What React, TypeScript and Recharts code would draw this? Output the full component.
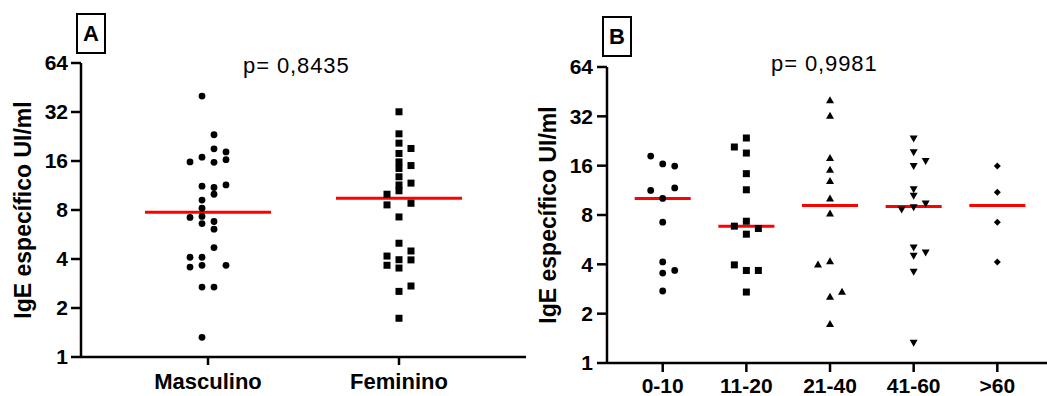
import React from 'react';
import { ScatterChart, Scatter, XAxis, YAxis, ReferenceLine } from 'recharts';

// IgE values, with the lane each dot sits in
const sexGroups = ['Masculino', 'Feminino'];
const masculinoIgE = [40.1, 23.2, 19.0, 18.2, 16.9, 15.8, 15.7, 16.3, 11.2, 11.0, 11.4, 10.0, 9.2, 8.2, 7.2, 7.3, 6.6, 6.8, 6.1, 4.7, 4.1, 4.1, 3.57, 3.66, 3.66, 2.69, 2.69, 1.32];
const masculinoLane = [-0.5, 0.5, 0.5, 1.5, -0.5, -1.5, 0.5, 1.5, -0.5, 0.5, 1.5, 0.5, -0.5, -0.5, -1.5, -0.5, -0.5, 0.5, 0.5, 0.5, -1.5, -0.5, -1.5, -0.5, 1.5, -0.5, 0.5, -0.5];
const femininoIgE = [32.1, 23.5, 20.6, 19.1, 17.8, 15.8, 14.4, 15.0, 12.8, 11.4, 11.7, 10.5, 10.0, 8.6, 8.8, 7.25, 5.0, 4.48, 4.17, 3.96, 3.95, 3.66, 3.52, 2.73, 2.53, 1.73];
const femininoLane = [0, 0, 0, 1, 0, 0, 0, 1, 0, 0, 1, 0, -1, -1, 1, 0, 0, 1, -1, 0, 1, -1, 0, 1, 0, 0];
const sexMedians = [7.74, 9.44];

const ageGroups = ['0-10', '11-20', '21-40', '41-60', '>60'];
const age0to10 = [18.3, 16.4, 15.9, 11.3, 11.7, 10.1, 7.23, 4.14, 3.54, 3.67, 2.75];
const age0to10Lane = [-1, 0, 1, -1, 1, 0, 0, 0, 0, 1, 0];
const age11to20 = [23.6, 20.8, 19.1, 14.3, 11.4, 7.33, 6.84, 6.62, 6.11, 3.97, 3.67, 3.67, 2.71];
const age11to20Lane = [0, -1, 0, 0, 0, 0, -1, 1, 0, -1, 0, 1, 0];
const age21to40 = [40.1, 32.3, 17.8, 15.1, 12.9, 10.1, 8.17, 3.99, 4.18, 2.72, 2.54, 1.73];
const age21to40Lane = [0, 0, 0, 0, 0, 0, 0, -1, 0, 1, 0, 0];
const age41to60 = [23.4, 19.3, 17.1, 15.9, 11.5, 10.5, 9.4, 8.64, 8.93, 5.07, 4.73, 4.51, 3.6, 1.33];
const age41to60Lane = [0, 0, 1, 0, 0, 0, 1, -1, 0, 0, 1, 0, 0, 0];
const ageOver60 = [15.9, 11.0, 7.23, 4.14];
const ageOver60Lane = [0, 0, 0, 0];
const ageMedians = [10.1, 6.84, 9.14, 9.01, 9.14];

const yTicks = [1, 2, 4, 8, 16, 32, 64];

const build = (group: number, values: number[], lanes: number[], laneW: number) =>
  values.map((v, i) => ({ x: group + lanes[i] * laneW, y: v }));

const Dot = (p: any) => <circle cx={p.cx} cy={p.cy} r={3.4} fill="#000" />;
const Sq = (p: any) => <rect x={p.cx - 3.5} y={p.cy - 3.5} width={7} height={7} fill="#000" />;
const TriUp = (p: any) => <path d={`M${p.cx},${p.cy - 4} L${p.cx + 4},${p.cy + 3} L${p.cx - 4},${p.cy + 3} Z`} fill="#000" />;
const TriDown = (p: any) => <path d={`M${p.cx - 4},${p.cy - 3} L${p.cx + 4},${p.cy - 3} L${p.cx},${p.cy + 4} Z`} fill="#000" />;
const Diam = (p: any) => <path d={`M${p.cx},${p.cy - 3.5} L${p.cx + 3.5},${p.cy} L${p.cx},${p.cy + 3.5} L${p.cx - 3.5},${p.cy} Z`} fill="#000" />;

const font = '"Liberation Sans", Arial, sans-serif';
const axisStroke = { stroke: '#000', strokeWidth: 2.5 };

const yTitle = (offset: number) => ({
  value: 'IgE específico UI/ml', angle: -90, position: 'insideLeft' as const, offset,
  style: { textAnchor: 'middle', fontSize: 23, fontWeight: 700, fill: '#000', fontFamily: font },
});

const PanelTag = ({ left, top, text }: { left: number; top: number; text: string }) => (
  <div style={{
    position: 'absolute', left, top, width: 26, height: 37, border: '2px solid #000',
    fontFamily: font, fontWeight: 700, fontSize: 22, lineHeight: '37px', textAlign: 'center',
  }}>{text}</div>
);

const PValue = ({ left, top, text }: { left: number; top: number; text: string }) => (
  <div style={{ position: 'absolute', left, top, fontFamily: font, fontSize: 22, letterSpacing: 0.9, lineHeight: '22px' }}>{text}</div>
);

export default function App() {
  const laneA = 0.0628;
  const laneB = 0.1435;
  const masc = build(0, masculinoIgE, masculinoLane, laneA);
  const fem = build(1, femininoIgE, femininoLane, laneA);
  const ageSets = [
    { data: build(0, age0to10, age0to10Lane, laneB), shape: Dot },
    { data: build(1, age11to20, age11to20Lane, laneB), shape: Sq },
    { data: build(2, age21to40, age21to40Lane, laneB), shape: TriUp },
    { data: build(3, age41to60, age41to60Lane, laneB), shape: TriDown },
    { data: build(4, ageOver60, ageOver60Lane, laneB), shape: Diam },
  ];

  const tickStyle = { fontSize: 21, fontWeight: 700, fill: '#000', fontFamily: font };

  return (
    <div style={{ position: 'absolute', left: 0, top: 0, width: 1047, height: 396, background: '#fff', fontFamily: font }}>
      <div style={{ position: 'absolute', left: 0, top: 0 }}>
        <ScatterChart width={540} height={396} margin={{ top: 63, right: 14, bottom: 0, left: 0 }}>
          <XAxis type="number" dataKey="x" domain={[-0.665, 1.665]} ticks={[0, 1]} interval={0}
            tickFormatter={(i: number) => sexGroups[i]} height={39}
            axisLine={axisStroke} tickLine={axisStroke} tickSize={8} tickMargin={8}
            tick={{ ...tickStyle, fontSize: 22 }} allowDataOverflow />
          <YAxis type="number" dataKey="y" scale="log" domain={[1, 64]} ticks={yTicks} interval={0}
            width={81} axisLine={axisStroke} tickLine={axisStroke} tickSize={10} tickMargin={3}
            tick={tickStyle} allowDataOverflow label={yTitle(23)} />
          <Scatter data={masc} shape={Dot} isAnimationActive={false} />
          <Scatter data={fem} shape={Sq} isAnimationActive={false} />
          {sexMedians.map((m, i) => (
            <ReferenceLine key={i} segment={[{ x: i - 0.33, y: m }, { x: i + 0.33, y: m }]}
              stroke="#ff0000" strokeWidth={3} ifOverflow="visible" />
          ))}
        </ScatterChart>
      </div>
      <div style={{ position: 'absolute', left: 520, top: 0 }}>
        <ScatterChart width={527} height={396} margin={{ top: 67, right: 0, bottom: 0, left: 0 }}>
          <XAxis type="number" dataKey="x" domain={[-0.666, 4.594]} ticks={[0, 1, 2, 3, 4]} interval={0}
            tickFormatter={(i: number) => ageGroups[i]} height={33}
            axisLine={axisStroke} tickLine={axisStroke} tickSize={9} tickMargin={6}
            tick={{ ...tickStyle, fontSize: 21 }} allowDataOverflow />
          <YAxis type="number" dataKey="y" scale="log" domain={[1, 64]} ticks={yTicks} interval={0}
            width={87} axisLine={axisStroke} tickLine={axisStroke} tickSize={10} tickMargin={4}
            tick={tickStyle} allowDataOverflow label={yTitle(28)} />
          {ageSets.map((s, i) => (
            <Scatter key={i} data={s.data} shape={s.shape} isAnimationActive={false} />
          ))}
          {ageMedians.map((m, i) => (
            <ReferenceLine key={i} segment={[{ x: i - 0.335, y: m }, { x: i + 0.335, y: m }]}
              stroke="#ff0000" strokeWidth={3} ifOverflow="visible" />
          ))}
        </ScatterChart>
      </div>
      <PanelTag left={76} top={13} text="A" />
      <PanelTag left={602} top={16} text="B" />
      <PValue left={243} top={55} text="p= 0,8435" />
      <PValue left={771} top={53} text="p= 0,9981" />
    </div>
  );
}
